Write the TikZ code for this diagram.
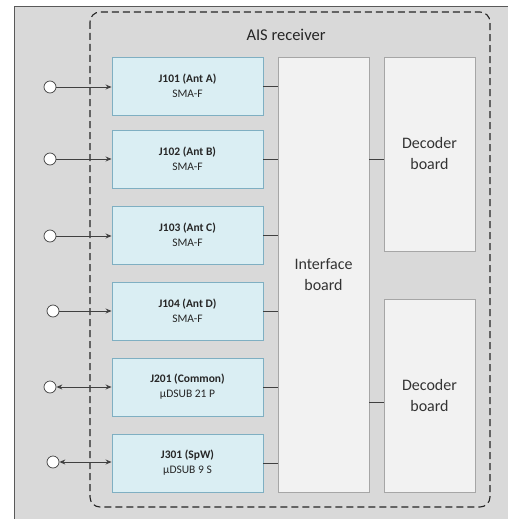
\documentclass[tikz,border=0pt]{standalone}
\usepackage{fontspec}
\setmainfont{Carlito}
\usetikzlibrary{arrows.meta,calc}
\definecolor{panelbg}{HTML}{D9D9D9}
\definecolor{panelline}{HTML}{595959}
\definecolor{jfill}{HTML}{DAEEF3}
\definecolor{jline}{HTML}{7FAFC2}
\definecolor{bfill}{HTML}{F2F2F2}
\definecolor{bline}{HTML}{A6A6A6}
\definecolor{wire}{HTML}{404040}
\definecolor{frameline}{HTML}{262626}
\tikzset{
  jbox/.style={draw=jline, fill=jfill, line width=0.9pt, minimum width=151pt, minimum height=58pt,
    inner sep=0pt, align=center, font=\fontsize{11.5}{15}\selectfont, text=black!85},
  board/.style={draw=bline, fill=bfill, line width=0.9pt, inner sep=0pt, align=center,
    font=\fontsize{16}{21}\selectfont, text=black!80},
  port/.style={circle, draw=wire, fill=white, line width=0.7pt, minimum size=12pt, inner sep=0pt},
  wireline/.style={draw=wire, line width=0.9pt},
  tip/.style={-{Stealth[length=6pt,width=5pt]}},
  dtip/.style={{Stealth[length=6pt,width=5pt]}-{Stealth[length=6pt,width=5pt]}},
}
\begin{document}
\begin{tikzpicture}[x=1pt,y=-1pt]
\useasboundingbox (0,0) rectangle (508,519);
\fill[white] (0,0) rectangle (508,519);
\draw[panelline, fill=panelbg, line width=0.9pt] (14,6) rectangle (520,530);
\draw[frameline, line width=1.1pt, dash pattern=on 7pt off 4pt, rounded corners=10pt] (90,12) rectangle (490,507);
\node[font=\fontsize{16.5}{20}\selectfont, text=black!85] (title) at (286,35) {AIS receiver};

\node[jbox] (j1) at (187.5,86) {\textbf{J101 (Ant A)}\\SMA-F};
\node[jbox] (j2) at (187.5,159) {\textbf{J102 (Ant B)}\\SMA-F};
\node[jbox] (j3) at (187.5,235) {\textbf{J103 (Ant C)}\\SMA-F};
\node[jbox] (j4) at (187.5,311) {\textbf{J104 (Ant D)}\\SMA-F};
\node[jbox] (j5) at (187.5,387) {\textbf{J201 (Common)}\\µDSUB 21 P};
\node[jbox] (j6) at (187.5,463) {\textbf{J301 (SpW)}\\µDSUB 9 S};

\node[board, minimum width=91pt, minimum height=435pt] (iface) at (323.5,274.5) {Interface\\board};
\node[board, minimum width=91pt, minimum height=194pt] (dec1) at (429.5,154) {Decoder\\board};
\node[board, minimum width=91pt, minimum height=193pt] (dec2) at (429.5,395.5) {Decoder\\board};

\node[port] (p1) at (50,87) {};
\node[port] (p2) at (50,159) {};
\node[port] (p3) at (50,236) {};
\node[port] (p4) at (53,311) {};
\node[port] (p5) at (50,387) {};
\node[port] (p6) at (53,462) {};

\foreach \i in {1,...,4}{
  \draw[wireline, tip] (p\i.east) -- (p\i.east -| j\i.west);
}
\foreach \i in {5,6}{
  \draw[wireline, dtip] (p\i.east) -- (p\i.east -| j\i.west);
}
\foreach \i in {1,...,6}{
  \draw[wireline] (j\i.east) -- (j\i.east -| iface.west);
}
\draw[wireline] ([yshift=-5pt]dec1.west) -- ([yshift=-5pt]dec1.west -| iface.east);
\draw[wireline] ([yshift=-6.5pt]dec2.west) -- ([yshift=-6.5pt]dec2.west -| iface.east);
\end{tikzpicture}
\end{document}
